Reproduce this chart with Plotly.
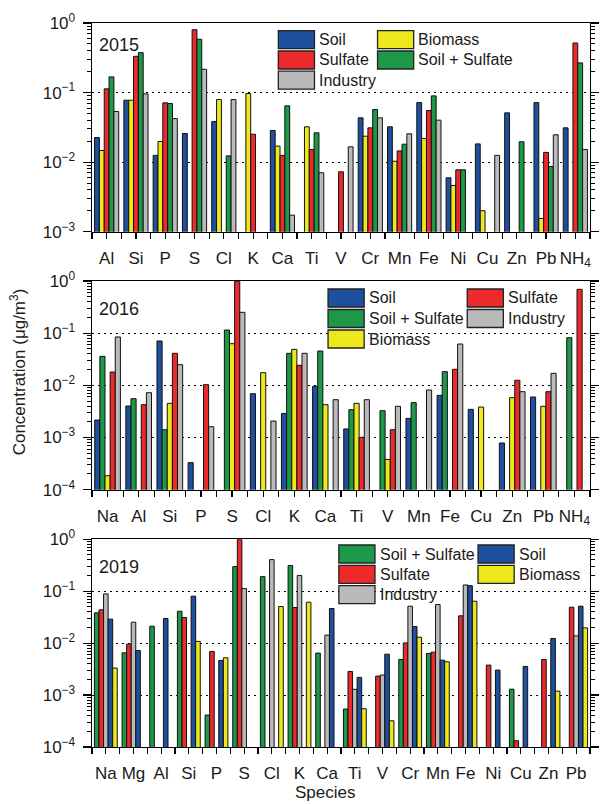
import plotly.graph_objects as go

# ---------------- data ----------------
cats_2015 = ["Al", "Si", "P", "S", "Cl", "K", "Ca", "Ti", "V", "Cr", "Mn", "Fe",
             "Ni", "Cu", "Zn", "Pb", "NH<sub>4</sub>"]
soil_2015 = [0.0226, 0.0776, 0.0125, 0.0258, 0.0383, None, 0.0285, None, None, 0.0433,
             0.0322, 0.0718, 0.00596, 0.0183, 0.0511, 0.0718, 0.0311]
biomass_2015 = [0.0147, 0.0776, 0.0198, None, 0.0794, 0.0968, 0.0170, 0.0322, None, 0.0236,
                0.0103, 0.0219, 0.00462, 0.0020, None, 0.00155, None]
sulfate_2015 = [0.113, 0.332, 0.0711, 0.80, None, 0.0252, 0.0125, 0.0152, 0.00727, 0.0311,
                0.0145, 0.0552, 0.00776, None, None, 0.0138, 0.516]
soilsulf_2015 = [0.168, 0.375, 0.0695, 0.583, 0.0123, None, 0.0644, 0.0264, None, 0.0570,
                 0.0181, 0.0896, 0.00776, None, 0.0196, 0.00867, 0.267]
industry_2015 = [0.0534, 0.0957, 0.0423, 0.216, 0.0794, None, 0.00173, 0.00703, 0.0166, 0.0433,
                 0.0255, 0.0401, None, 0.0125, None, 0.0247, 0.0152]

cats_2016 = ["Na", "Al", "Si", "P", "S", "Cl", "K", "Ca", "Ti", "V", "Mn", "Fe",
             "Cu", "Zn", "Pb", "NH<sub>4</sub>"]
soil_2016 = [0.00216, 0.00402, 0.0708, 0.00033, None, 0.00692, 0.00290, 0.00957, 0.00146, None,
             0.00233, 0.00643, 0.00347, 0.000786, 0.00598, None]
soilsulf_2016 = [0.0360, 0.00555, 0.00141, None, 0.115, None, 0.0411, 0.0455, 0.00342, 0.00327,
                 0.00466, 0.0183, None, None, None, 0.0820]
biomass_2016 = [0.000185, None, 0.00452, None, 0.0629, 0.0175, 0.0490, 0.00426, 0.00452, 0.00038,
                None, None, 0.00384, 0.00580, 0.00396, None]
sulfate_2016 = [0.0180, 0.00426, 0.0411, 0.0103, 1.0, None, 0.0242, None, 0.00101, 0.00141,
                None, 0.0203, None, 0.0125, 0.00756, 0.692]
industry_2016 = [0.0845, 0.00723, 0.0249, 0.00161, 0.251, 0.00207, 0.0411, 0.00531, 0.00531, 0.00396,
                 0.00814, 0.0620, None, 0.00756, 0.0170, None]

cats_2019 = ["Na", "Mg", "Al", "Si", "P", "S", "Cl", "K", "Ca", "Ti", "V", "Cr", "Mn", "Fe",
             "Ni", "Cu", "Zn", "Pb"]
soilsulf_2019 = [0.0383, 0.00652, 0.0212, 0.0412, 0.000412, 0.298, 0.191, 0.312, 0.00643, 0.000538,
                 None, 0.00485, 0.00633, None, None, 0.00130, None, None]
sulfate_2019 = [0.0438, 0.00957, None, 0.0312, 0.00692, 1.0, None, 0.0485, None, 0.00285,
                0.00232, 0.0101, 0.00671, 0.0336, 0.00378, 0.000132, 0.00485, 0.0492]
industry_2019 = [0.0889, 0.0253, None, None, None, 0.1125, 0.406, 0.200, 0.01426, 0.00129,
                 0.00243, 0.0515, 0.0554, 0.132, None, None, None, 0.0138]
soil_2019 = [0.0290, 0.00723, 0.0298, 0.0802, 0.00464, None, None, None, 0.0464, 0.00219,
             0.00614, 0.0209, 0.00471, 0.128, 0.00303, 0.00356, 0.0123, 0.0515]
biomass_2019 = [0.00331, None, None, 0.0108, 0.00522, None, 0.0507, 0.0614, None, 0.000546,
                0.00032, 0.0130, 0.00438, 0.0642, None, None, 0.00119, 0.0197]

years = ["2015", "2016", "2019"]

# ---------------- style ----------------
COL = {
    "Soil": "#1f4f9f",
    "Biomass": "#ede81c",
    "Sulfate": "#ec2a2c",
    "Soil + Sulfate": "#1c9848",
    "Industry": "#bababa",
}
FONT = "Liberation Sans, Arial, sans-serif"
TXT = "#1a1a1a"

W, H = 605, 804
ML, MR, MT, MB = 92, 6, 23, 57
PW, PH = W - ML - MR, H - MT - MB


def fx(p):
    return (p - ML) / PW


def fy(p):
    return (H - MB - p) / PH


panels = [
    dict(cats=cats_2015,
         series=[("Soil", soil_2015), ("Biomass", biomass_2015), ("Sulfate", sulfate_2015),
                 ("Soil + Sulfate", soilsulf_2015), ("Industry", industry_2015)],
         lo=-3, top_px=22.7, bot_px=231.7, year_y=45,
         legend=[("Soil", 281.7, 30.7), ("Sulfate", 281.7, 51.0), ("Industry", 281.7, 71.2),
                 ("Biomass", 382.7, 30.7), ("Soil + Sulfate", 382.7, 51.0)]),
    dict(cats=cats_2016,
         series=[("Soil", soil_2016), ("Soil + Sulfate", soilsulf_2016), ("Biomass", biomass_2016),
                 ("Sulfate", sulfate_2016), ("Industry", industry_2016)],
         lo=-4, top_px=281.0, bot_px=489.7, year_y=308.5,
         legend=[("Soil", 332.3, 289.0), ("Soil + Sulfate", 332.3, 309.5), ("Biomass", 332.3, 330.0),
                 ("Sulfate", 474.0, 289.0), ("Industry", 474.0, 309.5)]),
    dict(cats=cats_2019,
         series=[("Soil + Sulfate", soilsulf_2019), ("Sulfate", sulfate_2019), ("Industry", industry_2019),
                 ("Soil", soil_2019), ("Biomass", biomass_2019)],
         lo=-4, top_px=539.3, bot_px=747.3, year_y=566.5,
         legend=[("Soil + Sulfate", 343.3, 545.0), ("Sulfate", 343.3, 565.3), ("Industry", 343.3, 585.7),
                 ("Soil", 485.0, 545.0), ("Biomass", 485.0, 565.3)]),
]

fig = go.Figure()
shapes = []
annotations = []
layout_axes = {}


def sup_label(k):
    return "10<sup>0</sup>" if k == 0 else "10<sup>\u2212%d</sup>" % (-k)


for i, p in enumerate(panels):
    s = "" if i == 0 else str(i + 1)
    n = len(p["cats"])
    xs = list(range(n))
    for name, vals in p["series"]:
        fig.add_trace(go.Bar(
            x=xs, y=vals, name=name, xaxis="x" + s, yaxis="y" + s,
            marker=dict(color=COL[name], line=dict(color="#111111", width=1)),
            showlegend=False,
        ))
    ydom = [max(0.0, fy(p["bot_px"])), min(1.0, fy(p["top_px"]))]
    boundaries = [j + 0.5 for j in range(-1, n)]
    layout_axes["xaxis" + s] = dict(
        domain=[0, 1], anchor="y" + s, range=[-0.5, n - 0.5],
        tickmode="array", tickvals=xs, ticktext=p["cats"],
        ticks="outside", ticklen=6, tickwidth=1.2, tickcolor="black",
        minor=dict(tickmode="array", tickvals=boundaries,
                   ticks="outside", ticklen=6, tickwidth=1.2, tickcolor="black"),
        showline=True, linecolor="black", linewidth=1.4, mirror=True,
        showgrid=False, zeroline=False, ticklabelstandoff=4,
        tickfont=dict(family=FONT, size=17, color=TXT), fixedrange=True,
    )
    # top axis with inward ticks (no labels)
    layout_axes["xaxis" + str(i + 4)] = dict(
        overlaying="x" + s, anchor="y" + s, side="top", range=[-0.5, n - 0.5],
        tickmode="array", tickvals=xs, ticks="inside", ticklen=6, tickwidth=1.2,
        tickcolor="black", showticklabels=False,
        minor=dict(tickmode="array", tickvals=boundaries,
                   ticks="inside", ticklen=6, tickwidth=1.2, tickcolor="black"),
        showline=False, showgrid=False, zeroline=False, fixedrange=True,
    )
    kvals = list(range(p["lo"], 1))
    layout_axes["yaxis" + s] = dict(
        domain=ydom, anchor="x" + s, type="log", range=[p["lo"], 0],
        tickmode="array", tickvals=[10.0 ** k for k in kvals],
        ticktext=[sup_label(k) for k in kvals],
        ticks="outside", ticklen=8, tickwidth=1.2, tickcolor="black",
        minor=dict(tickmode="linear", dtick="D1", ticks="outside", ticklen=4,
                   tickwidth=1, tickcolor="black", showgrid=False),
        showline=True, linecolor="black", linewidth=1.4, mirror="ticks",
        showgrid=True, gridcolor="black", gridwidth=1, griddash="2px,4px",
        zeroline=False, ticklabelstandoff=4,
        tickfont=dict(family=FONT, size=17, color=TXT), fixedrange=True,
    )
    # year label
    annotations.append(dict(text=years[i], x=fx(119.5), y=fy(p["year_y"]), xref="paper", yref="paper",
                            showarrow=False, xanchor="center", yanchor="middle",
                            font=dict(family=FONT, size=18, color=TXT)))
    # legend (swatch + text)
    for name, x0, y0 in p["legend"]:
        shapes.append(dict(type="rect", xref="paper", yref="paper",
                           x0=fx(x0), x1=fx(x0 + 36.8), y0=fy(y0), y1=fy(y0 + 18.0),
                           fillcolor=COL[name], line=dict(color="#222222", width=1.3), layer="above"))
        annotations.append(dict(text=name, x=fx(x0 + 39.5), y=fy(y0 + 9.0), xref="paper", yref="paper",
                                showarrow=False, xanchor="left", yanchor="middle",
                                font=dict(family=FONT, size=16, color=TXT)))

annotations.append(dict(text="Concentration (\u03bcg/m<sup>3</sup>)", x=fx(17), y=fy(372),
                        xref="paper", yref="paper", showarrow=False, textangle=-90,
                        xanchor="center", yanchor="middle",
                        font=dict(family=FONT, size=17, color=TXT)))
annotations.append(dict(text="Species", x=fx(329.5), y=fy(804), xref="paper", yref="paper",
                        showarrow=False, xanchor="center", yanchor="bottom",
                        font=dict(family=FONT, size=17, color=TXT)))

fig.update_layout(
    width=W, height=H,
    margin=dict(l=ML, r=MR, t=MT, b=MB),
    paper_bgcolor="white", plot_bgcolor="white",
    barmode="group", bargap=0.175, bargroupgap=0.0,
    showlegend=False,
    shapes=shapes, annotations=annotations,
    font=dict(family=FONT, color=TXT),
    **layout_axes,
)

fig.write_html("out.html",
               config={"displayModeBar": False, "staticPlot": True},
               post_script="document.body.style.margin='0px';document.body.style.padding='0px';"
                           "document.body.style.overflow='hidden';")
